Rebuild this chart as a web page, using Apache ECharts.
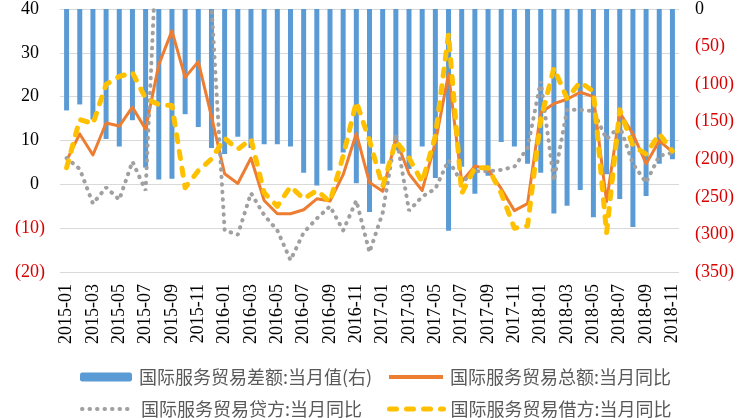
<!DOCTYPE html>
<html>
<head>
<meta charset="utf-8">
<script src="https://cdn.jsdelivr.net/npm/echarts@6/dist/echarts.min.js"></script>
<style>
html,body{margin:0;padding:0;background:#fff;}
#c{width:737px;height:418px;}
</style>
</head>
<body>
<div id="c"></div>
<script>
const months = [
  '2015-01','2015-02','2015-03','2015-04','2015-05','2015-06','2015-07','2015-08','2015-09','2015-10','2015-11','2015-12',
  '2016-01','2016-02','2016-03','2016-04','2016-05','2016-06','2016-07','2016-08','2016-09','2016-10','2016-11','2016-12',
  '2017-01','2017-02','2017-03','2017-04','2017-05','2017-06','2017-07','2017-08','2017-09','2017-10','2017-11','2017-12',
  '2018-01','2018-02','2018-03','2018-04','2018-05','2018-06','2018-07','2018-08','2018-09','2018-10','2018-11'
];
// 国际服务贸易差额:当月值 (右轴)
const balance = [
  -135,-127,-147,-173,-183,-148,-211,-227,-226,-140,-157,-185,
  -193,-170,-185,-180,-180,-183,-218,-235,-215,-191,-232,-270,
  -206,-188,-213,-183,-225,-295,-210,-246,-222,-177,-183,-206,
  -218,-272,-262,-241,-277,-220,-253,-290,-249,-206,-200
];
// 国际服务贸易总额:当月同比
const totalYoY = [
  5.4,11.5,6.7,14,13.3,17.6,12.6,27.3,35,24.4,28,15.5,
  2.4,0.2,6,-3.7,-6.7,-6.7,-5.8,-3.3,-3.8,2.2,11.6,0.4,
  -1.6,10.3,2.4,-1.4,9.5,25.2,0.6,4.2,3.4,-1,-6,-4.4,
  16.4,18.4,19.4,21,20,-3.9,16.4,11.5,4.7,9.9,7.4
];
// 国际服务贸易贷方:当月同比
const creditYoY = [
  6,3.5,-4.4,-0.7,-3.5,5.2,-1.4,65,68,60,52,41,
  -10.5,-11.5,-2,-7,-10.5,-17.3,-11,-7.8,-5,-10.5,-3.7,-15.5,
  -6.5,11.5,-6,-2.8,-1,5.5,0.4,3,3,3.3,4,8.3,
  23.5,0.8,17,17,16.7,10.3,13.3,4.7,0.4,6.5,7.2
];
// 国际服务贸易借方:当月同比
const debitYoY = [
  3.8,14.8,13.8,22.8,24.6,25.5,19.6,18.2,18,-0.8,3.1,5.8,
  10.5,8,10.3,-1.9,-5,-0.5,-3.3,-1.4,-4,6.5,18.8,10,
  -0.5,9.9,6,0.5,11,34.3,-2.1,3.8,3.8,-2,-10,-9.5,
  14.8,26.5,19.6,23.3,21.2,-11.1,17,8.8,6.9,11.5,7.6
];
const names = ['国际服务贸易差额:当月值(右)','国际服务贸易总额:当月同比','国际服务贸易贷方:当月同比','国际服务贸易借方:当月同比'];

const serif = '"Liberation Serif","Times New Roman",serif';
const cjk = '"Noto Sans CJK SC","Noto Sans",sans-serif';
const red = '#D90000';

const chart = echarts.init(document.getElementById('c'), null, {renderer:'canvas'});
function legendAt(name, left, top, w, h, lineW) {
  const l = {
    data:[name], left:left, top:top, itemWidth:w, itemHeight:h, itemGap:0,
    textStyle:{fontFamily:cjk, fontSize:18, color:'#595959', padding:[0,0,0,2]},
    selectedMode:false
  };
  if (lineW) {
    l.itemStyle = {opacity:0, borderWidth:0};
    l.lineStyle = {width:lineW};
  }
  return l;
}
chart.setOption({
  animation:false,
  backgroundColor:'#fff',
  grid:{left:60, right:57, top:7, bottom:146, containLabel:false},
  legend:[
    legendAt(names[0], 75, 363, 52, 9, 0),
    legendAt(names[1], 382, 363, 54, 14, 4),
    legendAt(names[2], 75, 395, 52, 14, 4),
    legendAt(names[3], 382, 395, 54, 14, 5)
  ],
  xAxis:{
    type:'category', data:months, boundaryGap:true,
    axisLine:{show:false}, axisTick:{show:false},
    axisLabel:{interval:1, rotate:90, fontFamily:serif, fontSize:18, color:'#000', margin:12}
  },
  yAxis:[
    {
      type:'value', min:-20, max:40, interval:10,
      axisLine:{show:false}, axisTick:{show:false},
      splitLine:{lineStyle:{color:'#D9D9D9', width:1}},
      axisLabel:{
        margin:15, fontFamily:serif, fontSize:18,
        formatter:function(v){ return v < 0 ? '{n|(' + (-v) + ')}' : '{p|' + v + '}'; },
        rich:{
          p:{fontFamily:serif, fontSize:18, color:'#000', padding:[0,6,0,0]},
          n:{fontFamily:serif, fontSize:18, color:red}
        }
      }
    },
    {
      type:'value', min:-350, max:0, interval:50,
      axisLine:{show:false}, axisTick:{show:false}, splitLine:{show:false},
      axisLabel:{
        margin:16, fontFamily:serif, fontSize:18,
        formatter:function(v){ return v < 0 ? '{n|(' + (-v) + ')}' : '{p|' + v + '}'; },
        rich:{
          p:{fontFamily:serif, fontSize:18, color:'#000'},
          n:{fontFamily:serif, fontSize:18, color:red}
        }
      }
    }
  ],
  series:[
    {
      name:names[0], type:'bar', yAxisIndex:1, data:balance, barWidth:5,
      itemStyle:{color:'#5B9BD5'}
    },
    {
      name:names[1], type:'line', yAxisIndex:0, data:totalYoY, symbol:'none',
      lineStyle:{color:'#ED7D31', width:3, join:'round'}, itemStyle:{color:'#ED7D31'}
    },
    {
      name:names[2], type:'line', yAxisIndex:0, data:creditYoY, symbol:'none',
      lineStyle:{color:'#A0A0A0', width:4, type:[0.5,7], cap:'round'}, itemStyle:{color:'#A0A0A0'}
    },
    {
      name:names[3], type:'line', yAxisIndex:0, data:debitYoY, symbol:'none',
      lineStyle:{color:'#FFC000', width:5, type:[7,10], cap:'round', join:'round'}, itemStyle:{color:'#FFC000'}
    }
  ]
});
</script>
</body>
</html>
